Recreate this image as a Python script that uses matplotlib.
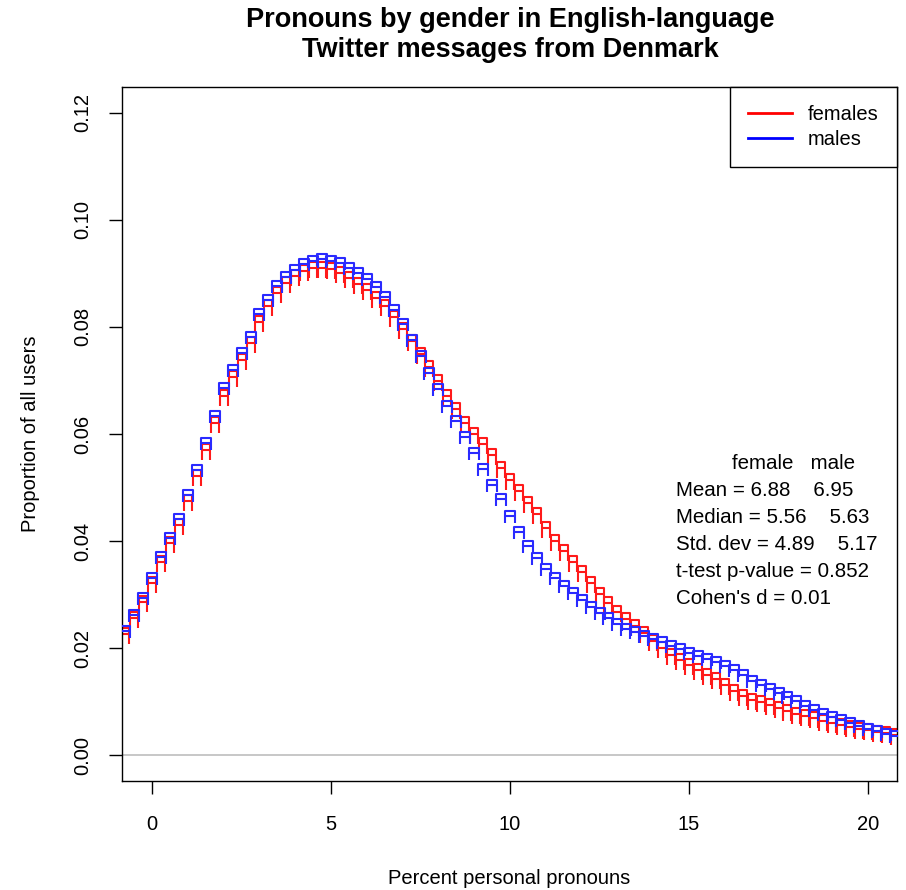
import numpy as np
import matplotlib
matplotlib.use('Agg')
import matplotlib.pyplot as plt
from matplotlib.path import Path
from matplotlib.lines import Line2D

plt.rcParams['font.family'] = ['Liberation Sans', 'DejaVu Sans']

# percent personal pronouns, sampled every 0.25
pct = np.arange(-0.75, 20.8, 0.25)

# density (proportion of all users)
females = [0.0238, 0.0268, 0.0298, 0.0333, 0.0372, 0.0407, 0.0442, 0.0486, 0.0533, 0.0582,
           0.0632, 0.0683, 0.0718, 0.0750, 0.0781, 0.0821, 0.0850, 0.0875, 0.0893, 0.0906,
           0.0915, 0.0921, 0.0922, 0.0919, 0.0912, 0.0903, 0.0892, 0.0880, 0.0866, 0.0850,
           0.0830, 0.0808, 0.0785, 0.0760, 0.0736, 0.0710, 0.0683, 0.0657, 0.0632, 0.0612,
           0.0592, 0.0572, 0.0548, 0.0526, 0.0505, 0.0483, 0.0461, 0.0436, 0.0411, 0.0392,
           0.0373, 0.0354, 0.0333, 0.0312, 0.0295, 0.0279, 0.0265, 0.0252, 0.0239, 0.0225,
           0.0211, 0.0199, 0.0189, 0.0179, 0.0170, 0.0162, 0.0153, 0.0142, 0.0132, 0.0122,
           0.0115, 0.0110, 0.0105, 0.0099, 0.0093, 0.0088, 0.0084, 0.0080, 0.0076, 0.0072,
           0.0068, 0.0064, 0.0061, 0.0058, 0.0055, 0.0052, 0.0050]
males = [0.0241, 0.0272, 0.0303, 0.0340, 0.0380, 0.0415, 0.0450, 0.0495, 0.0543, 0.0592,
         0.0643, 0.0695, 0.0728, 0.0760, 0.0790, 0.0833, 0.0860, 0.0886, 0.0902, 0.0915,
         0.0927, 0.0933, 0.0936, 0.0933, 0.0928, 0.0920, 0.0910, 0.0898, 0.0883, 0.0865,
         0.0840, 0.0815, 0.0785, 0.0755, 0.0724, 0.0693, 0.0661, 0.0633, 0.0603, 0.0573,
         0.0544, 0.0515, 0.0488, 0.0456, 0.0427, 0.0400, 0.0378, 0.0358, 0.0340, 0.0325,
         0.0312, 0.0299, 0.0287, 0.0275, 0.0265, 0.0255, 0.0245, 0.0239, 0.0232, 0.0226,
         0.0220, 0.0213, 0.0207, 0.0201, 0.0195, 0.0189, 0.0183, 0.0176, 0.0169, 0.0159,
         0.0149, 0.0141, 0.0133, 0.0126, 0.0118, 0.0110, 0.0101, 0.0094, 0.0087, 0.0081,
         0.0075, 0.0069, 0.0064, 0.0059, 0.0054, 0.0049, 0.0045]

x_ticks = [0, 5, 10, 15, 20]
y_ticks = [0.00, 0.02, 0.04, 0.06, 0.08, 0.10, 0.12]

stats_head = 'female   male'
stats_lines = ['Mean = 6.88    6.95',
               'Median = 5.56    5.63',
               'Std. dev = 4.89    5.17',
               't-test p-value = 0.852',
               "Cohen's d = 0.01"]

# marker glyphs, anchored at the top middle
M, L = Path.MOVETO, Path.LINETO
arch = Path([(-5, -12), (-5, 0), (5, 0), (5, -12), (-5, -5), (5, -5)], [M, L, L, L, M, L])
boxleg = Path([(-4.5, -16), (-4.5, 0), (4.5, 0), (4.5, -16), (-4.5, -6), (4.5, -6)],
              [M, L, L, L, M, L])

fig = plt.figure(figsize=(9.06, 8.9), dpi=100)
ax = fig.add_axes([122 / 906, 109 / 890, 775 / 906, 694 / 890])

ax.axhline(0, color='#bebebe', lw=1.2, zorder=1)
ax.plot(pct, females, ls='none', marker=boxleg, ms=23, mfc='none', mec='#ff1a1a', mew=1.5, zorder=2)
ax.plot(pct, males, ls='none', marker=arch, ms=17.3, mfc='none', mec='#2a2aff', mew=1.5, zorder=3)

ax.set_xlim(-0.84, 20.81)
ax.set_ylim(-0.0048, 0.1248)
ax.set_xticks(x_ticks)
ax.set_xticklabels([str(t) for t in x_ticks])
ax.set_yticks(y_ticks)
ax.set_yticklabels(['%.2f' % t for t in y_ticks], rotation=90, va='center')
ax.tick_params(axis='both', length=9.5, width=1, labelsize=14.5, color='black')
ax.tick_params(axis='x', pad=15)
ax.tick_params(axis='y', pad=12)
for s in ax.spines.values():
    s.set_linewidth(1.0)

ax.set_xlabel('Percent personal pronouns', fontsize=14.5)
ax.xaxis.set_label_coords(0.5, -0.141)
ax.xaxis.label.set_va('center')
ax.set_ylabel('Proportion of all users', fontsize=14.5)
ax.yaxis.set_label_coords(-0.1187, 0.5)
ax.yaxis.label.set_va('center')

fig.text(510 / 906, 1 - 35 / 890, 'Pronouns by gender in English-language\nTwitter messages from Denmark',
         ha='center', va='center', fontsize=19.5, fontweight='bold', linespacing=1.2)

handles = [Line2D([], [], color='#ff0000', lw=2), Line2D([], [], color='#0000ff', lw=2)]
leg = ax.legend(handles, ['females', 'males'], loc='upper right', fontsize=14.5, frameon=True,
                fancybox=False, edgecolor='black', framealpha=1, borderaxespad=0,
                borderpad=0.9, handlelength=2.2, handletextpad=0.8, labelspacing=0.3)
leg.get_frame().set_linewidth(1.0)

ax.text(0.787, 0.457, stats_head, transform=ax.transAxes, fontsize=14.8, va='center', ha='left')
for i, line in enumerate(stats_lines):
    ax.text(0.715, 0.418 - i * 0.0389, line, transform=ax.transAxes, fontsize=14.8,
            va='center', ha='left')

fig.savefig('out.png', dpi=100)
